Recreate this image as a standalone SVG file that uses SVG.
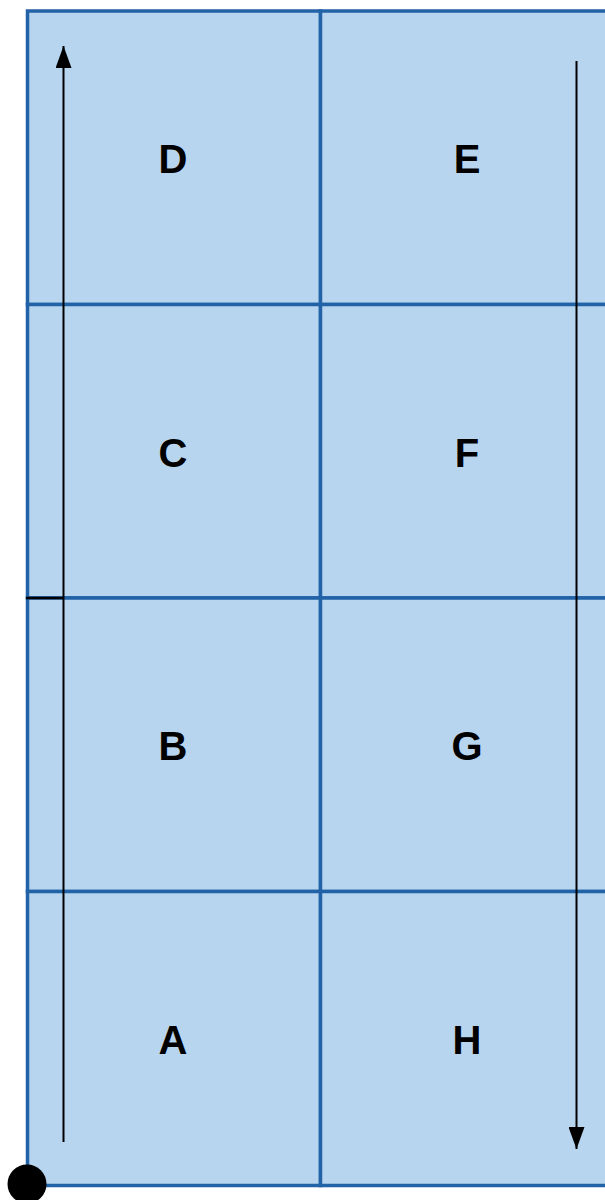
<svg xmlns="http://www.w3.org/2000/svg" width="605" height="1200" viewBox="0 0 605 1200">
<style>
.cell{fill:#b8d5f0;stroke:#2262a6;stroke-width:3.5}
.lbl{font-family:"Liberation Sans",Arial,sans-serif;font-weight:bold;font-size:40px;fill:#000;text-anchor:middle;dominant-baseline:central}
.conn{stroke:#000;stroke-width:2;fill:none}
</style>
<defs>
<marker id="ah" viewBox="0 0 22 16" refX="22" refY="8" markerWidth="22" markerHeight="16" markerUnits="userSpaceOnUse" orient="auto">
<path d="M0,0 L22,8 L0,16 z" fill="#000"/>
</marker>
</defs>
<g id="cellD"><rect class="cell" x="27.5" y="11" width="293" height="293.5"/><text class="lbl" x="173" y="159">D</text></g>
<g id="cellE"><rect class="cell" x="320.5" y="11" width="294" height="293.5"/><text class="lbl" x="467" y="159">E</text></g>
<g id="cellC"><rect class="cell" x="27.5" y="304.5" width="293" height="293.5"/><text class="lbl" x="173" y="453">C</text></g>
<g id="cellF"><rect class="cell" x="320.5" y="304.5" width="294" height="293.5"/><text class="lbl" x="467" y="453">F</text></g>
<g id="cellB"><rect class="cell" x="27.5" y="598" width="293" height="293.5"/><text class="lbl" x="173" y="746">B</text></g>
<g id="cellG"><rect class="cell" x="320.5" y="598" width="294" height="293.5"/><text class="lbl" x="467" y="746">G</text></g>
<g id="cellA"><rect class="cell" x="27.5" y="891.5" width="293" height="294"/><text class="lbl" x="173" y="1040">A</text></g>
<g id="cellH"><rect class="cell" x="320.5" y="891.5" width="294" height="294"/><text class="lbl" x="467" y="1040">H</text></g>
<g id="connectors">
<line class="conn" x1="63.5" y1="1142" x2="63.5" y2="46" marker-end="url(#ah)"/>
<line class="conn" x1="576.5" y1="61" x2="576.5" y2="1149" marker-end="url(#ah)"/>
<line x1="26" y1="598" x2="63.5" y2="598" stroke="#000" stroke-width="2.5"/>
</g>
<g id="origin"><circle cx="27" cy="1184" r="19.5" fill="#000"/></g>
</svg>
